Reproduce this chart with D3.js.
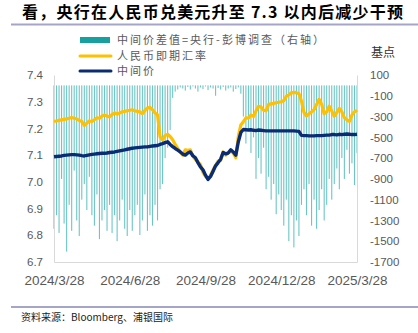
<!DOCTYPE html>
<html><head><meta charset="utf-8">
<script src="https://cdn.jsdelivr.net/npm/d3@7"></script>
<style>
html,body{margin:0;padding:0;background:#fff;}
svg{display:block;}
</style></head>
<body>
<svg id="c" width="418" height="333"></svg>
<script>
const title = "看，央行在人民币兑美元升至 7.3 以内后减少干预";
const source = "资料来源：Bloomberg、浦银国际";
const seriesNames = ["中间价差值=央行-彭博调查（右轴）", "人民币即期汇率", "中间价"];
const xTickLabels = ["2024/3/28", "2024/6/28", "2024/9/28", "2024/12/28", "2025/3/28"];
const leftTicks = [6.7, 6.8, 6.9, 7.0, 7.1, 7.2, 7.3, 7.4];
const rightTicks = [100, -100, -300, -500, -700, -900, -1100, -1300, -1500, -1700];

const midPrice = [7.094,7.095,7.096,7.097,7.099,7.100,7.101,7.102,7.102,7.101,
7.100,7.098,7.097,7.099,7.101,7.103,7.104,7.105,7.106,7.107,
7.107,7.108,7.110,7.111,7.112,7.114,7.116,7.118,7.120,7.122,
7.124,7.126,7.127,7.128,7.129,7.130,7.131,7.131,7.133,7.134,
7.135,7.136,7.140,7.143,7.147,7.150,7.140,7.132,7.125,7.119,
7.112,7.104,7.100,7.108,7.112,7.098,7.090,7.072,7.056,7.045,
7.025,7.009,7.020,7.040,7.060,7.072,7.085,7.110,7.105,7.108,
7.120,7.112,7.100,7.150,7.185,7.196,7.195,7.194,7.195,7.193,
7.192,7.194,7.193,7.192,7.191,7.191,7.191,7.191,7.191,7.191,
7.191,7.191,7.191,7.191,7.191,7.191,7.190,7.189,7.174,7.173,
7.173,7.172,7.172,7.172,7.173,7.173,7.173,7.174,7.175,7.175,
7.177,7.177,7.176,7.178,7.177,7.178,7.179,7.178,7.177,7.177,
7.178];

const spotRate = [7.226,7.228,7.230,7.232,7.234,7.236,7.238,7.241,7.238,7.235,
7.230,7.226,7.211,7.220,7.228,7.226,7.232,7.240,7.238,7.246,
7.251,7.246,7.243,7.252,7.258,7.254,7.258,7.262,7.264,7.266,
7.268,7.270,7.266,7.264,7.262,7.255,7.268,7.276,7.279,7.270,
7.258,7.251,7.169,7.157,7.173,7.178,7.170,7.158,7.140,7.125,
7.112,7.100,7.120,7.118,7.120,7.096,7.084,7.075,7.065,7.035,
7.020,7.012,7.025,7.045,7.062,7.078,7.080,7.112,7.100,7.110,
7.115,7.108,7.090,7.170,7.213,7.225,7.240,7.238,7.250,7.245,
7.265,7.283,7.280,7.268,7.266,7.290,7.292,7.294,7.296,7.298,
7.300,7.304,7.320,7.326,7.333,7.335,7.334,7.330,7.303,7.260,
7.246,7.255,7.262,7.270,7.290,7.309,7.290,7.255,7.262,7.283,
7.265,7.245,7.260,7.275,7.262,7.240,7.232,7.226,7.250,7.262,
7.268];

const fixGap = [-1380,-1250,-1420,-900,-1330,-1600,-1150,-1400,-820,-1300,
-1450,-1100,-950,-1200,-880,-1250,-1350,-1050,-1480,-1300,
-1200,-1400,-1150,-1420,-1250,-1500,-1300,-1100,-1380,-1450,
-1200,-1400,-1250,-1150,-1440,-1300,-1050,-1400,-1250,-1350,
-1150,-1300,-1000,-950,-700,-600,-430,-120,-60,-40,
-20,-30,-50,-15,-40,-10,-30,-60,-20,-35,
-10,-45,-20,-30,-100,-25,-40,-15,-50,-30,
-20,-60,-35,-20,-80,-300,-560,-420,-650,-500,
-900,-700,-850,-600,-1000,-880,-1100,-950,-1240,-1050,
-1200,-1350,-1100,-1500,-1250,-1560,-1300,-1450,-1150,-1000,
-1250,-950,-1350,-1100,-1380,-1200,-1000,-1300,-1150,-900,
-1100,-950,-800,-1000,-700,-900,-620,-850,-750,-960,
-650];

const svg = d3.select("#c");
const L = 54, R = 357, T = 75, B = 262;
const N = midPrice.length;
const x = d3.scaleLinear().domain([0, N - 1]).range([L, R]);
const yL = d3.scaleLinear().domain([6.7, 7.4]).range([B, T]);
const yR = d3.scaleLinear().domain([-1700, 100]).range([B, T]);
const gray = "#595959";

// title
svg.append("text").attr("x", 22).attr("y", 18)
  .attr("font-family", "'Noto Sans CJK SC', sans-serif").attr("font-weight", "bold")
  .attr("font-size", 16).attr("fill", "#000")
  .attr("textLength", 381).attr("lengthAdjust", "spacing").text(title);
svg.append("line").attr("x1", 11).attr("x2", 418).attr("y1", 24.5).attr("y2", 24.5)
  .attr("stroke", "#a5a5c8").attr("stroke-width", 2);

// bars
svg.append("g").selectAll("rect").data(fixGap).join("rect")
  .attr("x", (d, i) => x(i) - 0.55).attr("width", 1.1)
  .attr("y", d => Math.min(yR(0), yR(d)))
  .attr("height", d => Math.abs(yR(d) - yR(0)))
  .attr("fill", "#6cc6c6");

// axes
const axL = svg.append("g").attr("transform", `translate(${L},0)`)
  .call(d3.axisLeft(yL).tickValues(leftTicks).tickFormat(d3.format(".1f")).tickSize(0).tickPadding(11));
const axR = svg.append("g").attr("transform", `translate(${R},0)`)
  .call(d3.axisRight(yR).tickValues(rightTicks).tickFormat(d => d).tickSize(0).tickPadding(13));
const xTickIdx = xTickLabels.map((d, k) => k * (N - 1) / (xTickLabels.length - 1));
const axB = svg.append("g").attr("transform", `translate(0,${B})`)
  .call(d3.axisBottom(x).tickValues(xTickIdx).tickFormat((d, k) => xTickLabels[k]).tickSize(0).tickPadding(13));
[axL, axR, axB].forEach(a => {
  a.select(".domain").attr("stroke", "#d9d9d9").attr("stroke-width", 1);
  a.selectAll("text").attr("fill", gray).attr("font-family", "'Liberation Sans', Arial, sans-serif");
});
axL.selectAll("text").attr("font-size", 11.5);
axR.selectAll("text").attr("font-size", 11.5);
axB.selectAll("text").attr("font-size", 13.5);

svg.append("text").attr("x", 371).attr("y", 57).attr("font-size", 12)
  .attr("font-family", "'Noto Sans CJK SC', sans-serif").attr("fill", "#333").text("基点");

// lines
const line = d3.line().x((d, i) => x(i)).y(d => yL(d)).curve(d3.curveLinear);
svg.append("path").datum(spotRate).attr("d", line).attr("fill", "none")
  .attr("stroke", "#FFC000").attr("stroke-width", 3.2).attr("stroke-linejoin", "round");
svg.append("path").datum(midPrice).attr("d", line).attr("fill", "none")
  .attr("stroke", "#0a2c74").attr("stroke-width", 3.4).attr("stroke-linejoin", "round");

// legend
const lg = svg.append("g");
const ly = [40, 56, 71];
lg.append("rect").attr("x", 80).attr("y", ly[0] - 3).attr("width", 30).attr("height", 6).attr("fill", "#17a0a0");
lg.append("line").attr("x1", 80).attr("x2", 111).attr("y1", ly[1]).attr("y2", ly[1]).attr("stroke", "#FFC000").attr("stroke-width", 3).attr("stroke-linecap", "round");
lg.append("line").attr("x1", 80).attr("x2", 111).attr("y1", ly[2]).attr("y2", ly[2]).attr("stroke", "#0a2c74").attr("stroke-width", 3).attr("stroke-linecap", "round");
seriesNames.forEach((n, k) => {
  lg.append("text").attr("x", 117).attr("y", ly[k]).attr("dy", "0.36em")
    .attr("font-size", 11).attr("font-family", "'Noto Sans CJK SC', sans-serif")
    .attr("fill", gray).attr("letter-spacing", 2).text(n);
});

// footer
svg.append("line").attr("x1", 11).attr("x2", 418).attr("y1", 307).attr("y2", 307)
  .attr("stroke", "#a5a5c8").attr("stroke-width", 2);
svg.append("text").attr("x", 21).attr("y", 321).attr("font-size", 10)
  .attr("font-family", "'Noto Sans CJK SC', sans-serif").attr("fill", "#222").text(source);
</script>
</body></html>
